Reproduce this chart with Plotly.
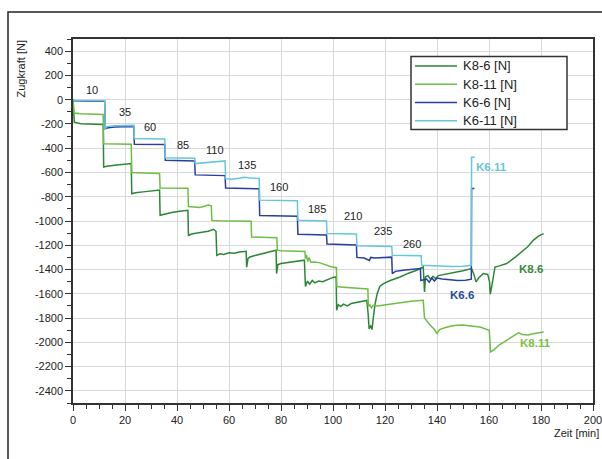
import plotly.graph_objects as go

# ---- measured tensile force over time, four test specimens ----
k86_t = [0, 0.5, 3, 6, 9, 11.6,
         11.8, 13, 16, 19, 22.4,
         22.6, 24, 27, 30, 33.3,
         33.5, 35, 38, 41, 44.2,
         44.4, 46, 49, 52, 54, 55,
         55.3, 56.5, 58, 60, 62, 64, 66.6,
         66.8, 67.3, 68, 70, 73, 76, 78.1,
         78.3, 78.8, 80, 83, 86, 89,
         89.4, 90.2, 91, 92, 93, 94.5, 96, 98, 100, 101.2,
         101.4, 102, 103, 104, 105.5, 107, 109, 111, 113,
         113.5, 113.9, 114.5, 115, 115.6, 116.2, 117, 118, 119.4, 122, 125.8, 129, 132.2, 134.7,
         135.2, 135.6, 136.5, 137.5, 138.5, 139.5, 140.5, 143, 145, 147.6, 150, 153.3,
         154.2, 155, 156, 157.8, 159.5, 160.2, 160.5, 161.2, 162.3, 164, 166.8, 170, 173.2, 175, 177, 179, 181]
k86_v = [0, -185, -198, -202, -205, -205,
         -555, -548, -540, -533, -527,
         -775, -768, -760, -752, -745,
         -953, -945, -930, -920, -912,
         -1118, -1105, -1095, -1085, -1068, -1085,
         -1283, -1270, -1275, -1262, -1265, -1255, -1250,
         -1380, -1310, -1297, -1285, -1270, -1250, -1241,
         -1433, -1360, -1351, -1340, -1330, -1323,
         -1540, -1495, -1520, -1490, -1510, -1495, -1500, -1480, -1465, -1461,
         -1736, -1690, -1705, -1685, -1700, -1680, -1672, -1665, -1655,
         -1760, -1890, -1860, -1895, -1780, -1680, -1600, -1540, -1516, -1490, -1461, -1430, -1406, -1379,
         -1585, -1460, -1450, -1480, -1455, -1475, -1450, -1440, -1430, -1420, -1410, -1392,
         -1440, -1502, -1470, -1433, -1440, -1500, -1604, -1520, -1379, -1370, -1351, -1300, -1241, -1210, -1159, -1125, -1104]

k811_t = [0, 0.4, 3, 6, 9, 11.6,
          11.8, 15, 19, 22.4,
          22.6, 25, 28, 31, 33.3,
          33.5, 37, 41, 44.2,
          44.4, 46, 48.8, 50.5, 52, 53.2,
          53.4, 56, 60, 64, 68.5,
          68.7, 72, 75, 78.4,
          78.6, 80, 83, 86, 89.2,
          89.4, 89.8, 90.3, 90.8, 91.5, 93, 95, 97, 99, 101.3,
          101.5, 104, 107, 110, 113.4,
          113.6, 114.2, 114.8, 115.5, 117, 120, 125, 130, 134.7,
          135.2, 137, 139, 140, 141, 143, 145.5, 147.6, 150, 153, 156.5, 160.1,
          160.6, 162, 164, 166.8, 169, 171.3, 173, 175, 177, 179, 181]
k811_v = [0, -110, -116, -118, -120, -122,
          -363, -365, -366, -368,
          -600, -603, -605, -606, -608,
          -728, -728, -729, -730,
          -880, -884, -888, -878, -868, -875,
          -995, -998, -1000, -1002, -1003,
          -1132, -1133, -1135, -1138,
          -1240, -1245, -1248, -1250, -1252,
          -1310, -1280, -1335, -1300, -1340, -1338, -1345, -1360, -1375, -1385,
          -1540, -1545, -1550, -1555, -1560,
          -1705, -1690, -1715, -1695, -1700, -1690, -1675, -1662, -1653,
          -1800, -1850, -1895, -1928, -1895, -1880, -1865, -1860, -1858, -1865, -1873, -1900,
          -2079, -2060, -2020, -1983, -1950, -1922, -1935, -1940, -1930, -1920, -1914]

k66_t = [0, 0.5, 4, 8, 12.2,
         12.4, 13.5, 16, 20, 23.4,
         23.6, 27, 31, 35.3,
         35.5, 39, 43, 46.8,
         47, 50, 54, 58.5,
         58.7, 62, 66, 71.6,
         71.8, 75, 80, 86.3,
         86.5, 90, 94, 97.5,
         97.7, 101, 105, 109,
         109.2, 112, 114, 114.5, 116, 119, 122.6,
         122.8, 124, 127, 130, 133.6,
         133.8, 135, 136, 137, 138, 139, 140, 142, 145, 148, 151, 153.2,
         153.3, 154.4]
k66_v = [0, -10, -12, -14, -14,
         -240, -232, -226, -224, -222,
         -368, -368, -369, -370,
         -500, -502, -503, -505,
         -620, -622, -624, -626,
         -728, -730, -733, -735,
         -955, -957, -958, -960,
         -1110, -1112, -1113, -1115,
         -1190, -1193, -1195, -1197,
         -1300, -1305, -1325, -1300, -1305, -1300, -1298,
         -1433, -1415, -1405, -1398, -1392,
         -1490, -1482, -1478, -1505, -1470, -1495, -1470, -1478, -1485, -1490, -1488, -1480,
         -733, -733]

k611_t = [0, 0.5, 6, 12.2,
          12.4, 13, 16, 20, 23.4,
          23.6, 27, 31, 35.3,
          35.5, 39, 43, 46.8,
          47, 50, 54, 56, 58.5,
          58.7, 61, 64, 66, 68, 71.6,
          71.8, 76, 81, 86.3,
          86.5, 90, 94, 97.5,
          97.7, 101, 105, 109,
          109.2, 113, 118, 122.6,
          122.8, 126, 130, 133.9,
          134.1, 138, 142, 146, 150, 153.2,
          153.3, 154.5]
k611_v = [0, -5, -6, -8,
          -240, -222, -216, -214, -212,
          -321, -322, -323, -325,
          -478, -480, -480, -482,
          -527, -522, -515, -508, -505,
          -651, -655, -648, -640, -645, -650,
          -828, -830, -832, -834,
          -994, -996, -998, -1000,
          -1104, -1106, -1106, -1108,
          -1205, -1207, -1208, -1210,
          -1283, -1285, -1285, -1287,
          -1365, -1370, -1373, -1375, -1372, -1365,
          -475, -475]

series_names = ["K8-6 [N]", "K8-11 [N]", "K6-6 [N]", "K6-11 [N]"]
series_t = [k86_t, k811_t, k66_t, k611_t]
series_v = [k86_v, k811_v, k66_v, k611_v]

# load stage labels along the staircase
stage_labels = ["10", "35", "60", "85", "110", "135", "160", "185", "210", "235", "260"]
stage_label_t = [7.4, 20.1, 29.5, 42.2, 54.6, 66.8, 79.2, 93.9, 107.8, 119.3, 130.3]
stage_label_v = [76, -102, -225, -376, -418, -541, -720, -898, -958, -1085, -1186]

# end-of-curve specimen labels
end_labels = ["K6.11", "K6.6", "K8.6", "K8.11"]
end_label_t = [154.2, 149.5, 176.0, 177.7]
end_label_v = [-555, -1612, -1392, -2002]

x_ticks = list(range(0, 201, 20))
y_ticks = list(range(-2400, 401, 200))

line_colors = ["#2d8636", "#6dbe45", "#2a3f9d", "#66c6da"]
label_colors = ["#66c6da", "#2a4aa0", "#3a8a3a", "#7cc142"]
font_family = "Liberation Sans, Arial, sans-serif"
text_color = "#222222"

# plot-area geometry in pixels (figure is 602 x 459)
W, H = 602, 459
L, R, T, B = 73, 9, 39, 56
PW, PH = W - L - R, H - T - B


def px_x(x):
    return (x - L) / PW


def px_y(y):
    return (H - B - y) / PH


fig = go.Figure()
for name, t, v, c in zip(series_names, series_t, series_v, line_colors):
    fig.add_trace(go.Scatter(x=t, y=v, mode="lines", name=name, showlegend=False,
                             line=dict(color=c, width=1.5)))

for txt, t, v in zip(stage_labels, stage_label_t, stage_label_v):
    fig.add_annotation(x=t, y=v, text=txt, showarrow=False,
                       font=dict(size=11, color=text_color, family=font_family),
                       xanchor="center", yanchor="middle")

for txt, t, v, c in zip(end_labels, end_label_t, end_label_v, label_colors):
    anchor = "left" if txt == "K6.11" else "center"
    fig.add_annotation(x=t, y=v, text="<b>%s</b>" % txt, showarrow=False,
                       font=dict(size=11.5, color=c, family=font_family),
                       xanchor=anchor, yanchor="middle")

# legend box drawn in paper space
fig.add_shape(type="rect", xref="paper", yref="paper",
              x0=px_x(411), x1=px_x(567), y0=px_y(129.5), y1=px_y(56.5),
              line=dict(color="#333333", width=1.5), fillcolor="white", layer="above")
legend_rows = [66, 84.3, 102.5, 120.7]
for name, c, ry in zip(series_names, line_colors, legend_rows):
    fig.add_shape(type="line", xref="paper", yref="paper",
                  x0=px_x(415), x1=px_x(457), y0=px_y(ry), y1=px_y(ry),
                  line=dict(color=c, width=1.5), layer="above")
    fig.add_annotation(xref="paper", yref="paper", x=px_x(461), y=px_y(ry),
                       text=name, showarrow=False, xanchor="left", yanchor="middle",
                       font=dict(size=13, color=text_color, family=font_family))

# axis captions
fig.add_annotation(xref="paper", yref="paper", x=px_x(20), y=px_y(69.5),
                   text="Zugkraft [N]", textangle=-90, showarrow=False,
                   font=dict(size=11, color=text_color, family=font_family),
                   xanchor="center", yanchor="middle")
fig.add_annotation(xref="paper", yref="paper", x=px_x(601), y=px_y(433),
                   text="Zeit [min]", showarrow=False,
                   font=dict(size=11, color=text_color, family=font_family),
                   xanchor="right", yanchor="middle")

# outer frame around the whole figure
fig.add_shape(type="rect", xref="paper", yref="paper",
              x0=px_x(8), y0=px_y(480), x1=px_x(620), y1=px_y(12),
              line=dict(color="#222222", width=1.5), fillcolor="rgba(0,0,0,0)",
              layer="above")

axis_common = dict(
    automargin=False, ticklabeloverflow="allow",
    showline=True, linecolor="#333333", linewidth=1.5, mirror=True,
    showgrid=True, gridcolor="#d9d9d9", gridwidth=1,
    zeroline=False, ticks="outside", ticklen=6, tickwidth=1.2, tickcolor="#333333",
    tickfont=dict(size=11, color=text_color, family=font_family),
)

fig.update_layout(
    width=W, height=H,
    margin=dict(l=L, r=R, t=T, b=B, autoexpand=False),
    paper_bgcolor="white", plot_bgcolor="white",
    showlegend=False,
    xaxis=dict(range=[0, 200], tickvals=x_ticks, ticktext=[str(v) for v in x_ticks],
               minor=dict(dtick=5, ticks="outside", ticklen=4, tickcolor="#333333",
                          showgrid=False),
               **axis_common),
    yaxis=dict(range=[-2500, 500], tickvals=y_ticks, ticktext=[str(v) for v in y_ticks],
               minor=dict(dtick=100, ticks="outside", ticklen=4, tickcolor="#333333",
                          showgrid=False),
               **axis_common),
)

fig.write_html("out.html")
